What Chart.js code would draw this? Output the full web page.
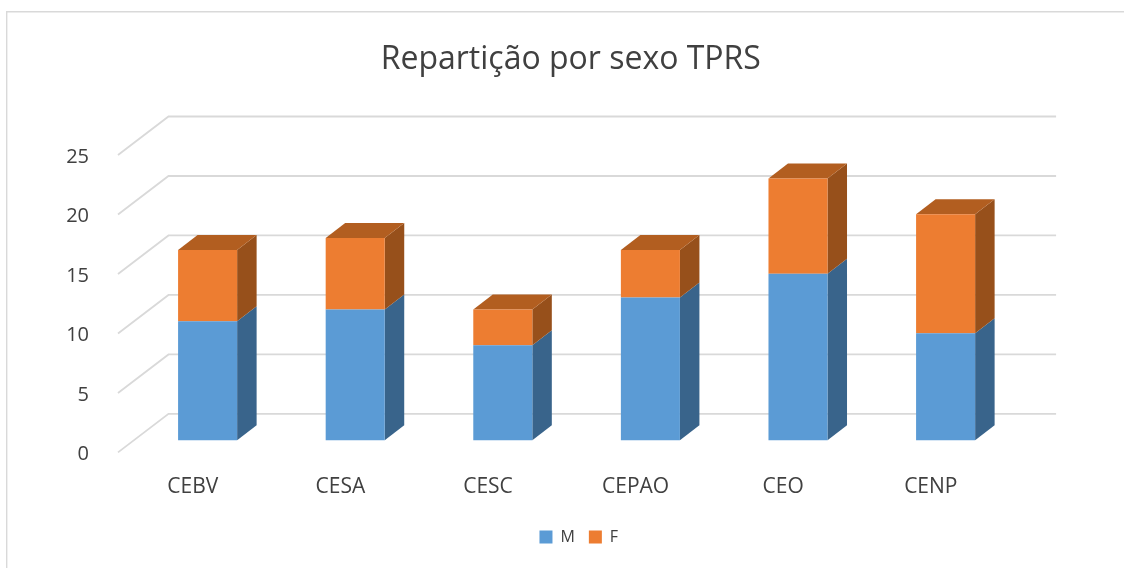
<!DOCTYPE html>
<html>
<head>
<meta charset="utf-8">
<title>Repartição por sexo TPRS</title>
<script src="https://cdn.jsdelivr.net/npm/chart.js@4/dist/chart.umd.min.js"></script>
<style>
    html, body { margin: 0; background: #fff; overflow: hidden; }
    canvas { display: block; }
</style>
</head>
<body>
<canvas id="sexChart" width="1124" height="568"></canvas>
<script>
// Chart data
const categories = ['CEBV', 'CESA', 'CESC', 'CEPAO', 'CEO', 'CENP'];
const maleValues = [10, 11, 8, 12, 14, 9];
const femaleValues = [6, 6, 3, 4, 8, 10];

const fontName = '"Open Sans", sans-serif';
const textColor = '#404040';
const gridColor = '#D9D9D9';

// 3D look of the excel chart
const wallDepth = { x: 50.5, y: -38.5 };
const wallExtra = 2;
const barShift = { x: 15.8, y: -12.1 };
const barDepth = { x: 19.5, y: -15 };
const sideColors = ['#39648B', '#97501B'];
const topColors = ['#3F74A3', '#B25E20'];

function polygon(ctx, points, color) {
    ctx.fillStyle = color;
    ctx.beginPath();
    points.forEach((p, i) => i ? ctx.lineTo(p[0], p[1]) : ctx.moveTo(p[0], p[1]));
    ctx.closePath();
    ctx.fill();
}

const frame3d = {
    id: 'frame3d',
    afterLayout(chart) {
        // title and legend are not centred on the same point in the reference
        chart.titleBlock.left += 69;
        chart.titleBlock.right += 69;
        chart.legend.left += 77;
        chart.legend.right += 77;
    },
    beforeDraw(chart) {
        const ctx = chart.ctx;
        ctx.save();
        ctx.strokeStyle = gridColor;
        ctx.lineWidth = 1.4;
        ctx.beginPath();
        ctx.moveTo(6.7, chart.height);
        ctx.lineTo(6.7, 11.7);
        ctx.lineTo(chart.width, 11.7);
        ctx.stroke();
        ctx.restore();
    },
    beforeDatasetsDraw(chart) {
        const ctx = chart.ctx;
        const area = chart.chartArea;
        const yScale = chart.scales.y;

        // gridlines: floor/side diagonal then back wall
        ctx.save();
        ctx.strokeStyle = gridColor;
        ctx.lineWidth = 1.8;
        yScale.ticks.forEach(tick => {
            const y = yScale.getPixelForValue(tick.value);
            ctx.beginPath();
            ctx.moveTo(area.left, y);
            ctx.lineTo(area.left + wallDepth.x, y + wallDepth.y);
            ctx.lineTo(area.right + wallDepth.x + wallExtra, y + wallDepth.y);
            ctx.stroke();
        });
        ctx.restore();

        // bars sit in the middle of the floor, so everything moves together
        ctx.save();
        ctx.translate(barShift.x, barShift.y);

        chart.data.datasets.forEach((ds, d) => {
            chart.getDatasetMeta(d).data.forEach(bar => {
                const right = bar.x + bar.width / 2;
                const left = bar.x - bar.width / 2;
                polygon(ctx, [
                    [right, bar.y],
                    [right + barDepth.x, bar.y + barDepth.y],
                    [right + barDepth.x, bar.base + barDepth.y],
                    [right, bar.base]
                ], sideColors[d]);
                if (d === chart.data.datasets.length - 1) {
                    polygon(ctx, [
                        [left, bar.y],
                        [left + barDepth.x, bar.y + barDepth.y],
                        [right + barDepth.x, bar.y + barDepth.y],
                        [right, bar.y]
                    ], topColors[d]);
                }
            });
        });
    },
    afterDatasetsDraw(chart) {
        chart.ctx.restore();
    }
};

new Chart(document.getElementById('sexChart'), {
    type: 'bar',
    data: {
        labels: categories,
        datasets: [
            { label: 'M', data: maleValues, backgroundColor: '#5B9BD5', clip: false },
            { label: 'F', data: femaleValues, backgroundColor: '#ED7D31', clip: false }
        ]
    },
    plugins: [frame3d],
    options: {
        responsive: false,
        animation: false,
        layout: { padding: { left: 0, right: 120.4, top: 0, bottom: 13 } },
        categoryPercentage: 0.8,
        barPercentage: 0.5,
        scales: {
            x: {
                stacked: true,
                grid: { display: false },
                border: { display: false },
                afterFit(scale) { scale.height = 62.6; },
                ticks: {
                    color: textColor,
                    maxRotation: 0,
                    padding: 14,
                    labelOffset: 1,
                    font: { family: fontName, size: 21 }
                }
            },
            y: {
                stacked: true,
                min: 0,
                max: 25,
                grid: { display: false },
                border: { display: false },
                afterFit(scale) { scale.width = 118; },
                ticks: {
                    color: textColor,
                    stepSize: 5,
                    padding: 21,
                    labelOffset: 2,
                    font: { family: fontName, size: 20 }
                }
            }
        },
        plugins: {
            title: {
                display: true,
                text: 'Repartição por sexo TPRS',
                color: textColor,
                padding: { top: 41, bottom: 75.6 },
                font: { family: fontName, size: 32, weight: 'normal' }
            },
            legend: {
                position: 'bottom',
                labels: {
                    color: textColor,
                    boxWidth: 13,
                    boxHeight: 13,
                    padding: 14,
                    font: { family: fontName, size: 16 }
                }
            },
            tooltip: { enabled: false }
        }
    }
});
</script>
</body>
</html>
